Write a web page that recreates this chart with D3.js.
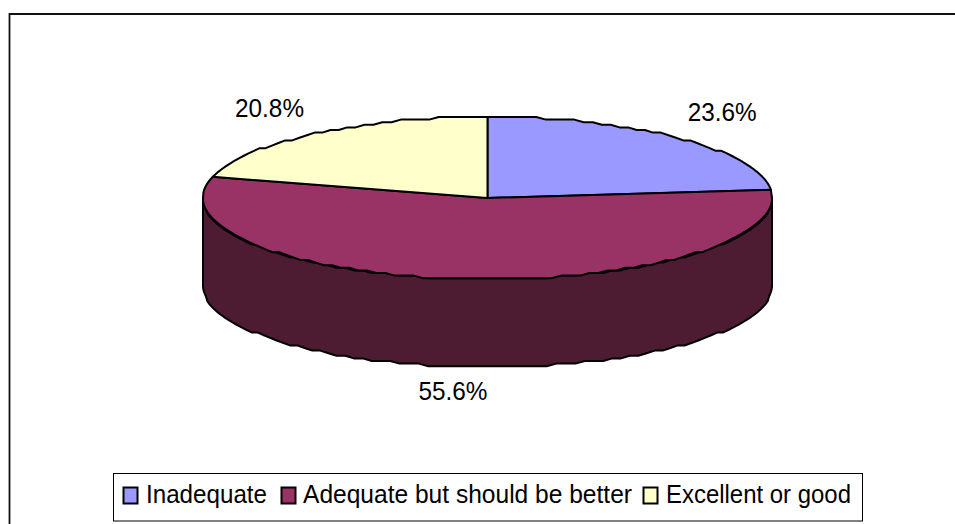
<!DOCTYPE html>
<html><head><meta charset="utf-8">
<style>html,body{margin:0;padding:0;background:#fff}svg{display:block}text{font-family:"Liberation Sans",Arial,sans-serif;fill:#000}</style>
<script src="https://cdn.jsdelivr.net/npm/d3@7"></script></head>
<body><svg id="c" width="955" height="524"></svg>
<script>
const categories = ["Inadequate","Adequate but should be better","Excellent or good"];
const values = [23.6,55.6,20.8];
const valueLabels = ["23.6%","55.6%","20.8%"];
const colors = ["#9999ff","#993366","#ffffcc"];
const wallColor = "#4d1c33";

const svg = d3.select("#c");
const cx=487.5, cy=198, rx=284.5, ry=81, depth=88, snap=2.6;
const xS = d3.scaleLinear().domain([-1,1]).range([cx-rx,cx+rx]);
const yS = d3.scaleLinear().domain([-1,1]).range([cy+ry,cy-ry]);
const pie = d3.pie().sort(null).value(d=>d).startAngle(0).endAngle(2*Math.PI);
const arcs = pie(values);
const q = v => Math.round(v/snap)*snap;
// rim point: y steps on a coarse grid, as in the low-resolution original
function rim(a, dy=0){ return [xS(Math.sin(a)), q(yS(Math.cos(a)))+dy]; }
function samples(a0,a1){ const n=Math.max(2,Math.ceil((a1-a0)/0.035)); return d3.range(n+1).map(i=>a0+(a1-a0)*i/n); }
const line = d3.line();

// frame (open on right and bottom)
svg.append("path").attr("d","M9.5,524V14H955").attr("fill","none").attr("stroke","#111").attr("stroke-width",1.8);

// side wall
const wa=samples(Math.PI/2,Math.PI*1.5);
const front=wa.map(a=>rim(a)), back=wa.map(a=>rim(a,depth)).reverse();
svg.append("path").attr("d",line(front.concat(back))+"Z").attr("fill",wallColor).attr("stroke","#000").attr("stroke-width",2).attr("stroke-linejoin","round");

// top slices
svg.selectAll("path.slice").data(arcs).join("path").attr("class","slice")
  .attr("d",d=>{
    const pts=[[cx,cy]].concat(samples(d.startAngle,d.endAngle).map(a=>rim(a)));
    return line(pts)+"Z";
  })
  .attr("fill",(d,i)=>colors[i]).attr("stroke","#000").attr("stroke-width",2).attr("stroke-linejoin","round");

// value labels
const labelOffsets=[[42.5,-25],[-9.5,113],[-45,-25]];
svg.selectAll("text.val").data(arcs).join("text").attr("class","val")
  .attr("x",(d,i)=>xS(Math.sin((d.startAngle+d.endAngle)/2))+labelOffsets[i][0])
  .attr("y",(d,i)=>yS(Math.cos((d.startAngle+d.endAngle)/2))+labelOffsets[i][1]+8)
  .attr("text-anchor","middle").attr("font-size",26).attr("textLength",69).attr("lengthAdjust","spacingAndGlyphs")
  .text((d,i)=>valueLabels[i]);

// legend
svg.append("rect").attr("x",113.5).attr("y",473.5).attr("width",749).attr("height",47.5).attr("fill","#fff").attr("stroke","#000").attr("stroke-width",1);
const legendX=[123.5,281.5,643.5], legendText=[146,303,666], legendW=[121,329,185];
const lg=svg.selectAll("g.leg").data(categories).join("g").attr("class","leg");
lg.append("rect").attr("x",(d,i)=>legendX[i]).attr("y",487.5).attr("width",14).attr("height",16)
  .attr("fill",(d,i)=>colors[i]).attr("stroke","#000").attr("stroke-width",2);
lg.append("text").attr("x",(d,i)=>legendText[i]).attr("y",503).attr("font-size",26)
  .attr("textLength",(d,i)=>legendW[i]).attr("lengthAdjust","spacingAndGlyphs").text(d=>d);
</script></body></html>
